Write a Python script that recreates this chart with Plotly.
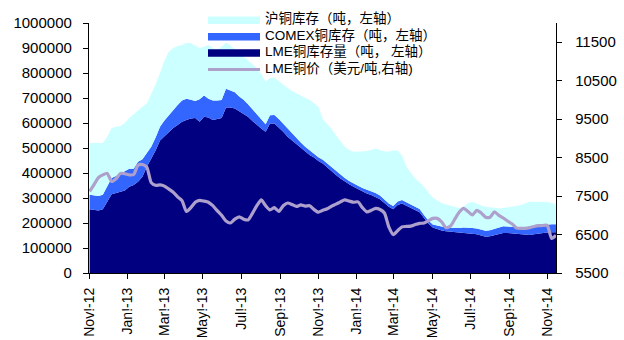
import pandas as pd
import plotly.graph_objects as go

# Weekly observations (Friday), Nov 2012 - Nov 2014
dates = pd.date_range("2012-11-02", periods=107, freq="7D")

# LME copper stocks (thousand tonnes)
lme_stock_k = [
    255, 252, 250, 255, 285, 315, 320, 325, 330, 345,
    352, 365, 385, 425, 455, 490, 530, 548, 565, 580,
    592, 605, 612, 618, 620, 605, 625, 622, 612, 615,
    620, 662, 662, 658, 648, 638, 625, 608, 592, 578,
    565, 598, 598, 582, 565, 545, 530, 515, 500, 485,
    472, 462, 448, 438, 422, 405, 392, 378, 365, 355,
    345, 335, 325, 318, 312, 305, 295, 280, 265, 255,
    272, 278, 270, 262, 252, 243, 220, 198, 182, 175,
    170, 167, 165, 163, 162, 160, 160, 158, 155, 150,
    145, 147, 152, 157, 160, 160, 158, 156, 155, 153,
    152, 155, 158, 160, 162, 163, 163,
]

# COMEX copper stocks (thousand tonnes)
comex_stock_k = [
    58, 58, 58, 58, 62, 65, 68, 72, 75, 72,
    65, 80, 70, 55, 50, 52, 55, 62, 67, 72,
    80, 85, 85, 75, 68, 90, 85, 75, 78, 75,
    72, 75, 68, 65, 58, 55, 50, 48, 45, 40,
    30, 33, 34, 34, 32, 30, 27, 24, 22, 20,
    18, 16, 15, 15, 16, 17, 18, 17, 15, 13,
    12, 14, 15, 15, 16, 15, 15, 14, 13, 13,
    14, 14, 13, 13, 13, 13, 12, 12, 12, 14,
    15, 15, 16, 17, 18, 22, 22, 22, 23, 24,
    24, 24, 25, 27, 27, 26, 26, 26, 27, 28,
    28, 29, 30, 30, 31, 32, 32,
]

# SHFE copper stocks (thousand tonnes)
shfe_stock_k = [
    207, 210, 210, 207, 198, 200, 197, 191, 195, 203,
    218, 207, 210, 198, 210, 213, 215, 240, 253, 248,
    236, 222, 223, 227, 222, 205, 195, 215, 210, 203,
    213, 184, 180, 172, 172, 169, 173, 179, 183, 177,
    170, 149, 150, 152, 155, 165, 171, 179, 186, 195,
    203, 202, 202, 162, 157, 153, 140, 130, 125, 124,
    128, 136, 145, 155, 164, 178, 182, 192, 208, 222,
    204, 178, 142, 125, 113, 106, 113, 112, 108, 101,
    95, 92, 89, 85, 80, 83, 98, 104, 98, 96,
    96, 91, 83, 75, 73, 76, 81, 86, 90, 97,
    105, 101, 97, 95, 91, 85, 81,
]

# LME copper price (USD/tonne)
lme_price = [
    7620, 7800, 7980, 8050, 8090, 7880, 7950, 8090, 8080, 8050,
    8060, 8300, 8320, 8250, 7850, 7780, 7790, 7760, 7680, 7600,
    7480, 7380, 7100, 7200, 7340, 7390, 7370, 7340, 7250, 7120,
    7000, 6850, 6800, 6900, 6960, 6900, 6880, 7050, 7250, 7400,
    7250, 7140, 7200, 7100, 7250, 7320, 7280, 7230, 7270, 7240,
    7250, 7150, 7080, 7130, 7170, 7240, 7290, 7350, 7400, 7370,
    7340, 7350, 7200, 7090, 7130, 7180, 7150, 7060, 6700, 6500,
    6600, 6700, 6710, 6720, 6760, 6790, 6800, 6860, 6920, 6920,
    6830, 6680, 6720, 6900, 7080, 7180, 7100, 7010, 7130, 7060,
    6950, 6950, 7090, 7000, 6930, 6850, 6780, 6670, 6660, 6660,
    6680, 6710, 6730, 6735, 6740, 6400, 6480,
]

tick_dates = [
    "2012-11-01", "2013-01-01", "2013-03-01", "2013-05-01", "2013-07-01",
    "2013-09-01", "2013-11-01", "2014-01-01", "2014-03-01", "2014-05-01",
    "2014-07-01", "2014-09-01", "2014-11-01",
]
tick_labels = [
    "Nov!-12", "Jan!-13", "Mar!-13", "May!-13", "Jul!-13", "Sep!-13", "Nov!-13",
    "Jan!-14", "Mar!-14", "May!-14", "Jul!-14", "Sep!-14", "Nov!-14",
]

series_names = [
    "沪铜库存（吨，左轴）",
    "COMEX铜库存（吨，左轴）",
    "LME铜库存量（吨， 左轴）",
    "LME铜价（美元/吨,右轴)",
]

NAVY = "#000080"
BLUE = "#3366FF"
CYAN = "#CCFFFF"
LAVENDER = "#ADA0CC"

FONT = "Arial, 'Liberation Sans', 'Noto Sans CJK SC', sans-serif"

fig = go.Figure()
for vals, color, name in [
    (lme_stock_k, NAVY, series_names[2]),
    (comex_stock_k, BLUE, series_names[1]),
    (shfe_stock_k, CYAN, series_names[0]),
]:
    fig.add_trace(go.Scatter(
        x=dates, y=[v * 1000 for v in vals], name=name,
        stackgroup="stocks", mode="lines",
        line=dict(width=0, color=color), fillcolor=color,
        showlegend=False, hoverinfo="skip",
    ))

fig.add_trace(go.Scatter(
    x=dates, y=lme_price, name=series_names[3], yaxis="y2",
    mode="lines", line=dict(color=LAVENDER, width=3.2, shape="spline", smoothing=0.6),
    showlegend=False,
))

# Plot-area geometry (pixels) used for the hand-placed legend
W, H = 624, 340
L, R, T, B = 89, 556, 23, 273


def px(x):
    return (x - L) / (R - L)


def py(y):
    return (B - y) / (B - T)


legend_rows = [
    (series_names[0], CYAN, 20.3, "box"),
    (series_names[1], BLUE, 36.8, "box"),
    (series_names[2], NAVY, 53.0, "box"),
    (series_names[3], LAVENDER, 69.5, "line"),
]
for text, color, yc, kind in legend_rows:
    if kind == "box":
        fig.add_shape(type="rect", xref="paper", yref="paper",
                      x0=px(208), x1=px(260), y0=py(yc + 3.8), y1=py(yc - 3.8),
                      fillcolor=color, line=dict(width=0), layer="above")
    else:
        fig.add_shape(type="line", xref="paper", yref="paper",
                      x0=px(208), x1=px(260), y0=py(yc), y1=py(yc),
                      line=dict(color=color, width=3), layer="above")
    fig.add_annotation(xref="paper", yref="paper", x=px(263), y=py(yc - 1.3),
                       text=text, showarrow=False, xanchor="left", yanchor="middle",
                       font=dict(family=FONT, size=13.5, color="#000000"))

axis_common = dict(showline=True, linecolor="#000000", linewidth=1.3,
                   ticks="outside", ticklen=5, tickwidth=1.3, tickcolor="#000000",
                   showgrid=False, zeroline=False, automargin=False)

fig.update_layout(
    width=W, height=H,
    margin=dict(l=L, r=W - R, t=T, b=H - B, autoexpand=False),
    paper_bgcolor="#FFFFFF", plot_bgcolor="#FFFFFF",
    font=dict(family=FONT, color="#000000"),
    showlegend=False,
    xaxis=dict(
        type="date", range=["2012-11-01", "2014-11-14"],
        tickmode="array", tickvals=tick_dates, ticktext=tick_labels,
        tickangle=-90, tickfont=dict(size=14, family=FONT),
        ticklabelstandoff=3,
        **axis_common,
    ),
    yaxis=dict(
        range=[0, 1000000], tickmode="linear", tick0=0, dtick=100000,
        tickformat="d", tickfont=dict(size=15, family=FONT),
        ticklabelstandoff=8,
        **axis_common,
    ),
    yaxis2=dict(
        overlaying="y", side="right", range=[5500, 12000],
        tickmode="linear", tick0=5500, dtick=1000,
        tickformat="d", tickfont=dict(size=15, family=FONT),
        ticklabelstandoff=10,
        **axis_common,
    ),
)

fig.write_html("out.html")
